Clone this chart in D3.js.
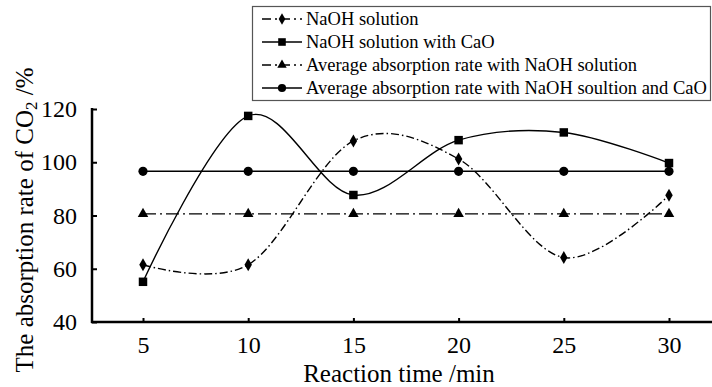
<!DOCTYPE html>
<html>
<head>
<meta charset="utf-8">
<script src="https://cdnjs.cloudflare.com/ajax/libs/d3/7.8.5/d3.min.js"></script>
<style>
  body { margin: 0; background: #fff; }
  svg text { font-family: "Liberation Serif", "Times New Roman", Times, "DejaVu Serif", "Noto Serif", serif; fill: #000; }
</style>
</head>
<body>
<div id="chart"></div>
<script>
// data
var times = [5, 10, 15, 20, 25, 30];
var naoh = [61.5, 61.5, 108, 101.2, 64.2, 87.6];
var naohCaO = [55.1, 117.4, 87.7, 108.3, 111.2, 99.7];
var avgNaoh = [80.6, 80.6, 80.6, 80.6, 80.6, 80.6];
var avgNaohCaO = [96.6, 96.6, 96.6, 96.6, 96.6, 96.6];
var yTicks = [40, 60, 80, 100, 120];
var seriesNames = [
  "NaOH solution",
  "NaOH solution with CaO",
  "Average absorption rate with NaOH solution",
  "Average absorption rate with NaOH soultion and CaO"
];

var svgWidth = 712;
var svgHeight = 387;
var serif = "'Liberation Serif', 'Times New Roman', Times, 'DejaVu Serif', serif";

var svg = d3.select("#chart")
    .append("svg")
    .attr("width", svgWidth)
    .attr("height", svgHeight)
    .attr("font-family", serif);

// scales
var x = d3.scaleLinear().domain([5, 30]).range([143, 669]);
var y = d3.scaleLinear().domain([40, 120]).range([322, 109]);

var series = [
  { name: seriesNames[0], values: naoh, dash: "8,3,1.5,3", marker: d3.symbolDiamond, size: 48, curve: true },
  { name: seriesNames[1], values: naohCaO, dash: null, marker: d3.symbolSquare, size: 72, curve: true },
  { name: seriesNames[2], values: avgNaoh, dash: "13,4,2,4", marker: d3.symbolTriangle, size: 48, curve: false },
  { name: seriesNames[3], values: avgNaohCaO, dash: null, marker: d3.symbolCircle, size: 66, curve: false }
];

// lines
var smooth = d3.line()
    .x(function(d, i) { return x(times[i]); })
    .y(function(d) { return y(d); })
    .curve(d3.curveCardinal.tension(0));
var straight = d3.line()
    .x(function(d, i) { return x(times[i]); })
    .y(function(d) { return y(d); });

series.forEach(function(s) {
  svg.append("path")
      .attr("d", (s.curve ? smooth : straight)(s.values))
      .attr("fill", "none")
      .attr("stroke", "#000")
      .attr("stroke-width", 1.4)
      .attr("stroke-dasharray", s.dash);
});

// markers
series.forEach(function(s) {
  svg.append("g")
    .selectAll("path")
    .data(s.values)
    .enter()
    .append("path")
      .attr("d", d3.symbol().type(s.marker).size(s.size))
      .attr("transform", function(d, i) { return "translate(" + x(times[i]) + "," + y(d) + ")"; })
      .attr("fill", "#000");
});

// axes
var xAxis = d3.axisBottom(x).tickValues(times).tickSizeInner(-4).tickSizeOuter(0).tickPadding(14);
var gx = svg.append("g")
    .attr("transform", "translate(0,322)")
    .call(xAxis)
    .attr("font-family", serif);
gx.select(".domain").remove();
gx.selectAll("line").attr("stroke-width", 2);
gx.selectAll("text").attr("font-size", "24px");

var yAxis = d3.axisLeft(y).tickValues(yTicks).tickSizeInner(-5).tickSizeOuter(0).tickPadding(15);
var gy = svg.append("g")
    .attr("transform", "translate(92,0)")
    .call(yAxis)
    .attr("font-family", serif);
gy.select(".domain").remove();
gy.selectAll("line").attr("stroke-width", 2);
gy.selectAll("text").attr("font-size", "24px");

svg.append("line")
    .attr("x1", 92).attr("x2", 92)
    .attr("y1", 108).attr("y2", 323)
    .attr("stroke", "#000").attr("stroke-width", 2.5);
svg.append("line")
    .attr("x1", 91).attr("x2", 712)
    .attr("y1", 322).attr("y2", 322)
    .attr("stroke", "#000").attr("stroke-width", 2.5);

// axis titles
svg.append("text")
    .attr("x", 399)
    .attr("y", 382)
    .attr("text-anchor", "middle")
    .attr("font-size", "25px")
    .text("Reaction time /min");

var yTitle = svg.append("text")
    .attr("transform", "translate(33,220) rotate(-90)")
    .attr("text-anchor", "middle")
    .attr("font-size", "25px");
yTitle.append("tspan").text("The absorption rate of CO");
yTitle.append("tspan").attr("font-size", "17px").attr("dy", 4).text("2");
yTitle.append("tspan").attr("dy", -4).text(" /%");

// legend
var legend = svg.append("g");
legend.append("rect")
    .attr("x", 252.5).attr("y", 6.5)
    .attr("width", 458).attr("height", 94)
    .attr("fill", "#fff")
    .attr("stroke", "#555")
    .attr("stroke-width", 1.2);

var rowY = [19, 42, 65, 88];
series.forEach(function(s, i) {
  legend.append("line")
      .attr("x1", 262).attr("x2", 302)
      .attr("y1", rowY[i]).attr("y2", rowY[i])
      .attr("stroke", "#000")
      .attr("stroke-width", 1.4)
      .attr("stroke-dasharray", s.dash ? "9,4,2,4" : null);
  legend.append("path")
      .attr("d", d3.symbol().type(s.marker).size(s.size * 0.8))
      .attr("transform", "translate(282," + rowY[i] + ")")
      .attr("fill", "#000");
  legend.append("text")
      .attr("x", 306)
      .attr("y", rowY[i])
      .attr("dy", "0.33em")
      .attr("font-size", "18.5px")
      .text(s.name);
});
</script>
</body>
</html>
